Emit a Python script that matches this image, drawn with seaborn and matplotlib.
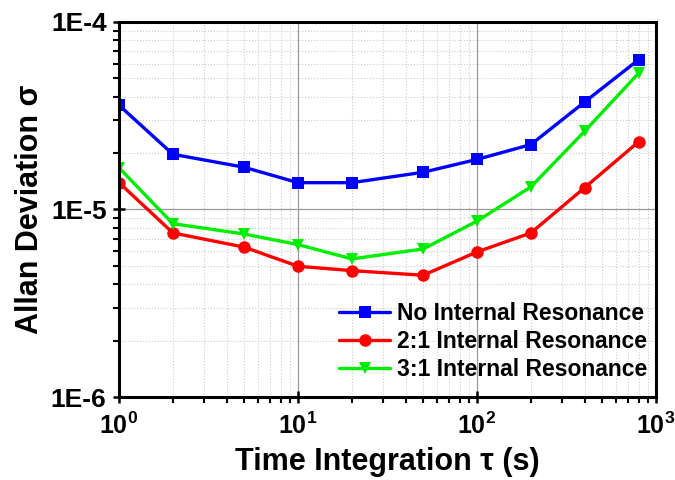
import numpy as np
import pandas as pd
import matplotlib
matplotlib.use("Agg")
import matplotlib.pyplot as plt
import matplotlib.ticker as mticker
import seaborn as sns

tau = [1, 2, 5, 10, 20, 50, 100, 200, 400, 800]
no_ir = [3.6e-5, 1.97e-5, 1.68e-5, 1.39e-5, 1.39e-5, 1.58e-5, 1.85e-5, 2.22e-5, 3.75e-5, 6.3e-5]
ir_21 = [1.39e-5, 7.5e-6, 6.3e-6, 4.98e-6, 4.72e-6, 4.46e-6, 5.94e-6, 7.5e-6, 1.31e-5, 2.30e-5]
ir_31 = [1.67e-5, 8.4e-6, 7.4e-6, 6.5e-6, 5.45e-6, 6.16e-6, 8.67e-6, 1.32e-5, 2.62e-5, 5.34e-5]
series_names = ["No Internal Resonance", "2:1 Internal Resonance", "3:1 Internal Resonance"]
colors = ["#0000ff", "#ff0000", "#00ee00"]
y_ticks = [1e-6, 1e-5, 1e-4]
y_tick_labels = ["1E-6", "1E-5", "1E-4"]

df = pd.DataFrame({
    "tau": tau * 3,
    "sigma": no_ir + ir_21 + ir_31,
    "series": [series_names[0]] * len(tau) + [series_names[1]] * len(tau) + [series_names[2]] * len(tau),
})

sns.set_style("white")
plt.rcParams["font.family"] = ["Liberation Sans", "DejaVu Sans"]
plt.rcParams["font.weight"] = "bold"
plt.rcParams["text.color"] = "black"
plt.rcParams["axes.labelcolor"] = "black"
plt.rcParams["xtick.color"] = "black"
plt.rcParams["ytick.color"] = "black"
plt.rcParams["mathtext.fontset"] = "custom"
plt.rcParams["mathtext.rm"] = "Liberation Sans:bold"
plt.rcParams["mathtext.bf"] = "Liberation Sans:bold"
plt.rcParams["mathtext.it"] = "Liberation Sans:bold:italic"

fig = plt.figure(figsize=(6.75, 4.8), dpi=100)
ax = fig.add_axes([0.1763, 0.1729, 0.7956, 0.7813])

sns.lineplot(data=df, x="tau", y="sigma", hue="series", style="series",
             hue_order=series_names, style_order=series_names,
             palette=colors, markers=["s", "o", "v"], dashes=False,
             markersize=9, linewidth=2.4, markeredgewidth=0, ax=ax)

ax.set_xscale("log")
ax.set_yscale("log")
ax.set_xlim(1, 1000)
ax.set_ylim(1e-6, 1e-4)

ax.yaxis.set_major_locator(mticker.FixedLocator(y_ticks))
ax.yaxis.set_major_formatter(mticker.FixedFormatter(y_tick_labels))
ax.yaxis.set_minor_locator(mticker.LogLocator(base=10, subs=np.arange(2, 10)))
ax.yaxis.set_minor_formatter(mticker.NullFormatter())
ax.xaxis.set_major_locator(mticker.LogLocator(base=10, numticks=10))
ax.xaxis.set_major_formatter(mticker.FuncFormatter(lambda v, p: r"$\mathbf{10^{%d}}$" % int(round(np.log10(v)))))
ax.xaxis.set_minor_locator(mticker.LogLocator(base=10, subs=np.arange(2, 10), numticks=20))
ax.xaxis.set_minor_formatter(mticker.NullFormatter())

ax.grid(True, which="major", color="#999999", linewidth=0.9, linestyle="-")
ax.grid(True, which="minor", color="#cccccc", linewidth=0.8, linestyle=":")
ax.set_axisbelow(True)

for s in ax.spines.values():
    s.set_linewidth(2.2)
    s.set_color("black")

ax.tick_params(axis="both", which="major", direction="inout", length=8, width=1.8,
               bottom=True, left=True, top=False, right=False, colors="black")
ax.tick_params(axis="y", which="major", labelsize=19, pad=5)
ax.tick_params(axis="x", which="major", labelsize=18, pad=7)
ax.tick_params(axis="both", which="minor", direction="out", length=4, width=1.5,
               bottom=True, left=True, top=False, right=False, colors="black")
for lab in ax.get_yticklabels():
    lab.set_fontweight("bold")

ax.set_xlabel("Time Integration τ (s)", fontsize=22, fontweight="bold", labelpad=6, color="black")
ax.set_ylabel("Allan Deviation σ", fontsize=22, fontweight="bold", labelpad=4, color="black")

leg = ax.get_legend()
handles = leg.legend_handles
labels = [t.get_text() for t in leg.get_texts()]
ax.legend(handles, labels, loc="lower right", frameon=False,
          prop={"weight": "bold", "size": 16.5}, handlelength=2.2, handletextpad=0.3,
          labelspacing=0.22, borderaxespad=0.0, bbox_to_anchor=(1.0, 0.018),
          labelcolor="black")

fig.savefig("out.png", dpi=100)
